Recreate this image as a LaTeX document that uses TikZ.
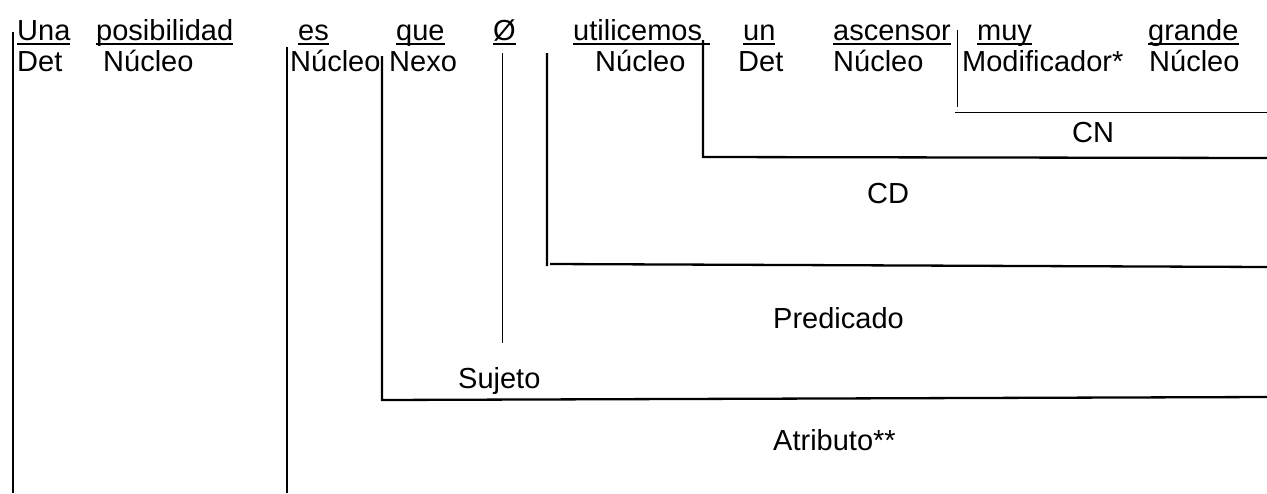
\documentclass[tikz,border=0pt]{standalone}
\usepackage{fontspec}
\setmainfont{Liberation Sans}
\newcommand{\ulword}[1]{\setbox0\hbox{#1}\rlap{\rule[-5pt]{\wd0}{1.8pt}}\box0}
\tikzset{
  word/.style={inner sep=0pt, anchor=base west, font=\fontsize{29}{34}\selectfont},
  bar/.style={line width=2.3pt},
  thinbar/.style={line width=1pt}
}
\begin{document}
\begin{tikzpicture}[x=1pt, y=-1pt]
        \useasboundingbox (0, 0) rectangle (1267, 493);
        % sentence
        \node (una) at (17, 40) [word] {\ulword{Una}};
        \node (posib) at (96, 40) [word] {\ulword{posibilidad}};
        \node (es) at (298, 40) [word] {\ulword{es}};
        \node (que) at (396, 40) [word] {\ulword{que}};
        \node (cero) at (493, 40) [word] {\ulword{Ø}};
        \node (utili) at (573, 40) [word] {\ulword{utilicemos\ }};
        \node (un) at (743, 40) [word] {\ulword{un}};
        \node (ascen) at (833, 40) [word] {\ulword{ascensor}};
        \node (muy) at (977, 40) [word] {\ulword{muy}};
        \node (grande) at (1148, 40) [word] {\ulword{grande}};
        % functions
        \node (det1) at (17, 71) [word] {Det};
        \node (nuc1) at (103, 71) [word] {Núcleo};
        \node (nuc2) at (290, 71) [word] {Núcleo};
        \node (nexo) at (389, 71) [word] {Nexo};
        \node (nuc3) at (595, 71) [word] {Núcleo};
        \node (det2) at (738, 71) [word] {Det};
        \node (nuc4) at (833, 71) [word] {Núcleo};
        \node (modif) at (962, 71) [word] {Modificador*};
        \node (nuc5) at (1149, 71) [word] {Núcleo};
        % brackets
        \draw[bar] (13, 32) -- (13, 493);
        \draw[bar] (287, 47) -- (287, 493);
        \draw[bar] (382, 56) -- (382, 400) -- (1267, 397);
        \draw[thinbar] (502, 53) -- (502, 343);
        \draw[bar] (547, 53) -- (547, 266) (550, 264) -- (1267, 267);
        \draw[bar] (703, 40) -- (703, 157) -- (1267, 158);
        \draw[thinbar] (957, 30) -- (957, 107) (955, 112) -- (1267, 112);
        % labels
        \node (cn) at (1072, 142) [word] {CN};
        \node (cd) at (867, 203) [word] {CD};
        \node (pred) at (773, 328) [word] {Predicado};
        \node (suj) at (458, 388) [word] {Sujeto};
        \node (atrib) at (773, 450) [word] {Atributo**};
    \end{tikzpicture}
\end{document}
